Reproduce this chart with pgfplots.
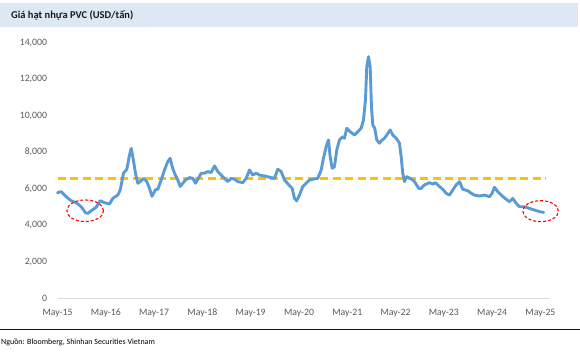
\documentclass[border=0pt]{standalone}
\usepackage{fontspec}
\setmainfont{Carlito}
\usepackage{pgfplots}
\usepackage{pgfplotstable}
\pgfplotsset{compat=1.18}
\definecolor{pvcblue}{HTML}{5B9BD5}
\definecolor{pvcgold}{HTML}{FFC000}
\definecolor{titlebar}{HTML}{DDE8F4}
\definecolor{ticklbl}{HTML}{595959}
\definecolor{axgray}{HTML}{D9D9D9}
\definecolor{srcblue}{HTML}{0000C0}

% month index from May-2015, price USD/ton
\pgfplotstableread{
m v
0.00 5780
0.92 5840
2.16 5560
3.40 5340
4.65 5230
5.89 5010
6.96 4680
7.53 4650
8.37 4790
9.61 4980
10.61 5340
11.68 5230
12.92 5160
13.74 5470
14.98 5650
15.58 5930
16.40 6850
17.22 7070
17.89 7850
18.31 8220
18.71 7760
19.38 6850
19.95 6300
20.55 6390
21.37 6570
22.19 6390
22.86 6020
23.48 5580
24.35 5950
24.92 5970
25.76 6480
26.58 7030
27.40 7490
28.00 7670
28.50 7210
29.07 6850
29.89 6480
30.48 6120
31.13 6300
31.80 6480
32.80 6610
33.61 6570
34.29 6300
34.86 6520
35.70 6850
36.52 6850
37.34 6940
38.19 6890
39.01 7250
39.83 6940
40.67 6750
41.49 6570
42.31 6390
43.16 6570
43.98 6520
44.80 6390
46.04 6330
46.88 6570
47.70 7030
48.52 6750
49.37 6850
50.19 6750
51.43 6700
52.67 6630
53.91 6570
54.73 7070
55.58 6940
56.40 6480
57.47 6210
58.31 6020
58.88 5470
59.45 5340
60.12 5650
60.94 6120
61.79 6300
62.61 6480
63.43 6520
64.67 6570
65.52 7030
66.09 7670
66.76 8310
67.33 8680
67.75 7760
68.25 7120
68.82 7210
69.39 8130
70.06 8680
70.88 8860
71.30 8770
71.88 9320
72.72 9130
73.79 8950
74.61 9130
75.45 9320
76.02 9770
76.52 10870
76.85 12700
77.27 13250
77.69 12700
78.01 10500
78.34 9500
78.83 9320
79.33 8680
80.00 8500
80.67 8680
81.24 8770
81.81 8950
82.66 9230
83.30 8950
84.15 8770
84.97 8500
85.39 7760
85.79 6850
86.21 6390
86.78 6660
87.63 6570
88.27 6480
88.70 6390
89.76 6020
90.36 6020
91.18 6210
92.42 6330
93.24 6260
93.91 6330
94.91 6120
95.73 5970
96.57 5750
97.39 5650
98.21 5930
99.05 6210
99.88 6390
100.70 5970
101.94 5890
102.78 5750
103.60 5650
104.84 5600
106.09 5650
107.33 5560
108.00 5750
108.57 6080
109.39 5840
110.24 5650
111.48 5420
112.30 5290
113.12 5470
113.96 5200
114.78 5010
116.02 5010
117.27 4920
118.51 4830
119.75 4740
120.82 4700
}\pvcdata

\pgfplotstableread{
m v
0 6550
121.5 6550
}\avgdata

\begin{document}
\begin{tikzpicture}
\path[use as bounding box] (0bp,0bp) rectangle (580bp,-354bp);
\fill[titlebar] (0bp,-3.3bp) rectangle (578bp,-26.7bp);
\node[anchor=west, font=\fontsize{10.5}{12}\selectfont\bfseries, inner sep=0, text=black!90] at (11bp,-15.5bp) {Giá hạt nhựa PVC (USD/tấn)};
\draw[srcblue, line width=1bp] (0bp,-329bp) -- (580bp,-329bp);
\node[anchor=west, font=\fontsize{8}{9}\selectfont, inner sep=0] at (1bp,-342.5bp) {Nguồn: Bloomberg, Shinhan Securities Vietnam};
\begin{axis}[
  at={(57.5bp,-298bp)}, anchor=south west,
  scale only axis, width=491bp, height=255bp,
  xmin=0, xmax=122, ymin=0, ymax=14000,
  axis x line*=bottom, axis y line*=left,
  x axis line style={draw=axgray, line width=0.8bp, -},
  y axis line style={draw=none},
  major tick length=0pt,
  xtick={0,12,24,36,48,60,72,84,96,108,120},
  xticklabels={May-15,May-16,May-17,May-18,May-19,May-20,May-21,May-22,May-23,May-24,May-25},
  ytick={0,2000,4000,6000,8000,10000,12000,14000},
  scaled y ticks=false,
  /pgf/number format/.cd, 1000 sep={,}, assume math mode=true,
  /pgfplots/.cd,
  tick label style={font=\fontsize{9.8}{11}\selectfont, text=ticklbl},
  xticklabel style={yshift=-7.5bp},
  yticklabel style={xshift=-7bp},
  clip=false,
]
\addplot[pvcgold, line width=2.6bp, dash pattern=on 8bp off 4.5bp] table[x=m,y=v] {\avgdata};
\addplot[pvcblue, line width=2.9bp, line join=round, line cap=round] table[x=m,y=v] {\pvcdata};
\draw[red, line width=1.1bp, dash pattern=on 3bp off 2bp] (axis cs:6.88,4790) ellipse [x radius=18.3bp, y radius=10.8bp];
\draw[red, line width=1.1bp, dash pattern=on 3bp off 2bp] (axis cs:120.05,4767) ellipse [x radius=17.8bp, y radius=10.5bp];
\end{axis}
\end{tikzpicture}
\end{document}
